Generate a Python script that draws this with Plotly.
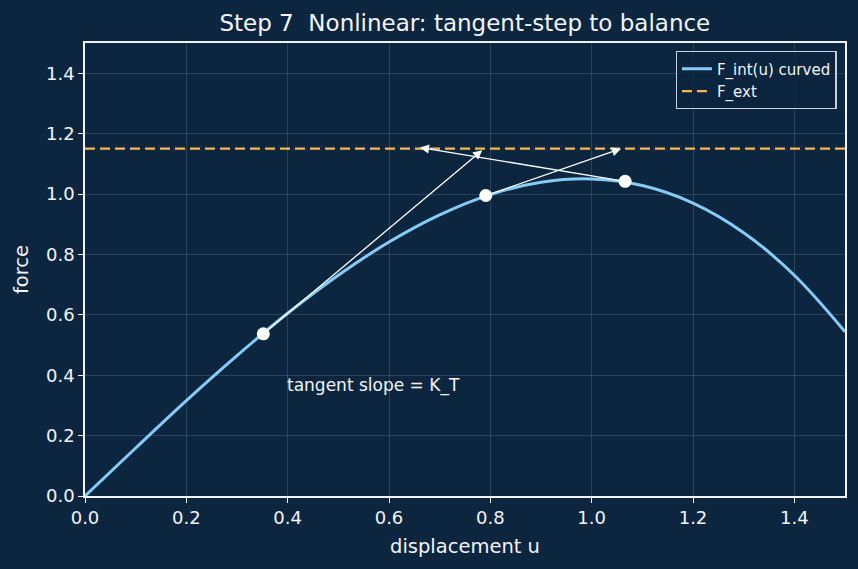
import plotly.graph_objects as go

# Curve F_int(u)
u_curve = [0.0, 0.1, 0.2, 0.3, 0.4, 0.5, 0.6, 0.7, 0.8, 0.9, 1.0, 1.1, 1.2, 1.3, 1.4, 1.5]
f_curve = [0.0, 0.159, 0.316, 0.465, 0.605, 0.731, 0.841, 0.931, 0.998, 1.039, 1.050, 1.028, 0.970, 0.872, 0.731, 0.544]

# External force level
u_ext = [0.0, 1.5]
f_ext = [1.15, 1.15]

# Iteration points on the curve
u_pts = [0.352, 0.791, 1.066]
f_pts = [0.537, 0.995, 1.042]

# Tangent-step arrow heads (tails are the iteration points)
u_heads = [0.784, 1.058, 0.661]
f_heads = [1.145, 1.150, 1.154]

x_ticks = [0.0, 0.2, 0.4, 0.6, 0.8, 1.0, 1.2, 1.4]
y_ticks = [0.0, 0.2, 0.4, 0.6, 0.8, 1.0, 1.2, 1.4]

BG = "#0c2640"
FG = "#f2f4f7"
GRID = "rgba(255,255,255,0.13)"

fig = go.Figure()
fig.add_trace(go.Scatter(x=u_curve, y=f_curve, mode="lines", name="F_int(u) curved",
                         line=dict(color="#86cbf7", width=3, shape="spline")))
fig.add_trace(go.Scatter(x=u_ext, y=f_ext, mode="lines", name="F_ext",
                         line=dict(color="#ffb74d", width=2.2, dash="10px,5px")))
fig.add_trace(go.Scatter(x=u_pts, y=f_pts, mode="markers", showlegend=False,
                         marker=dict(color="white", size=13)))

for ut, ft, uh, fh in zip(u_pts, f_pts, u_heads, f_heads):
    fig.add_annotation(x=uh, y=fh, ax=ut, ay=ft, xref="x", yref="y", axref="x", ayref="y",
                       showarrow=True, arrowhead=2, arrowsize=1.4, arrowwidth=1.3,
                       arrowcolor="white", standoff=0, startstandoff=0, text="")

fig.add_annotation(x=0.4, y=0.35, xref="x", yref="y", text="tangent slope = K_T",
                   showarrow=False, xanchor="left", yanchor="bottom", yshift=-8, xshift=-3,
                   font=dict(size=17, color=FG))

axis_common = dict(showline=True, linecolor=FG, linewidth=1.6, mirror=True,
                   ticks="outside", ticklen=5, tickwidth=1.3, tickcolor=FG,
                   showgrid=True, gridcolor=GRID, gridwidth=1, zeroline=False,
                   tickfont=dict(size=18, color=FG), tickformat=".1f")

fig.update_layout(
    width=858, height=569,
    margin=dict(l=85, r=13, t=43, b=73),
    paper_bgcolor=BG, plot_bgcolor=BG,
    font=dict(family="DejaVu Sans", color=FG),
    title=dict(text="Step 7  Nonlinear: tangent-step to balance", x=0.5418, xanchor="center",
               y=1 - 23 / 569, yanchor="middle", yref="container",
               font=dict(size=23, color=FG)),
    xaxis=dict(range=[0, 1.5], tickvals=x_ticks,
               title=dict(text="displacement u", font=dict(size=19.5, color=FG), standoff=12),
               **axis_common),
    yaxis=dict(range=[0, 1.5], tickvals=y_ticks,
               title=dict(text="force", font=dict(size=19.5, color=FG), standoff=12),
               **axis_common),
    legend=dict(x=0.989, y=0.982, xanchor="right", yanchor="top",
                bgcolor="rgba(12,38,64,0.85)", bordercolor="#c8d0d8", borderwidth=1.3,
                font=dict(size=15, color=FG), tracegroupgap=0),
    showlegend=True,
)

fig.write_html("out.html")
